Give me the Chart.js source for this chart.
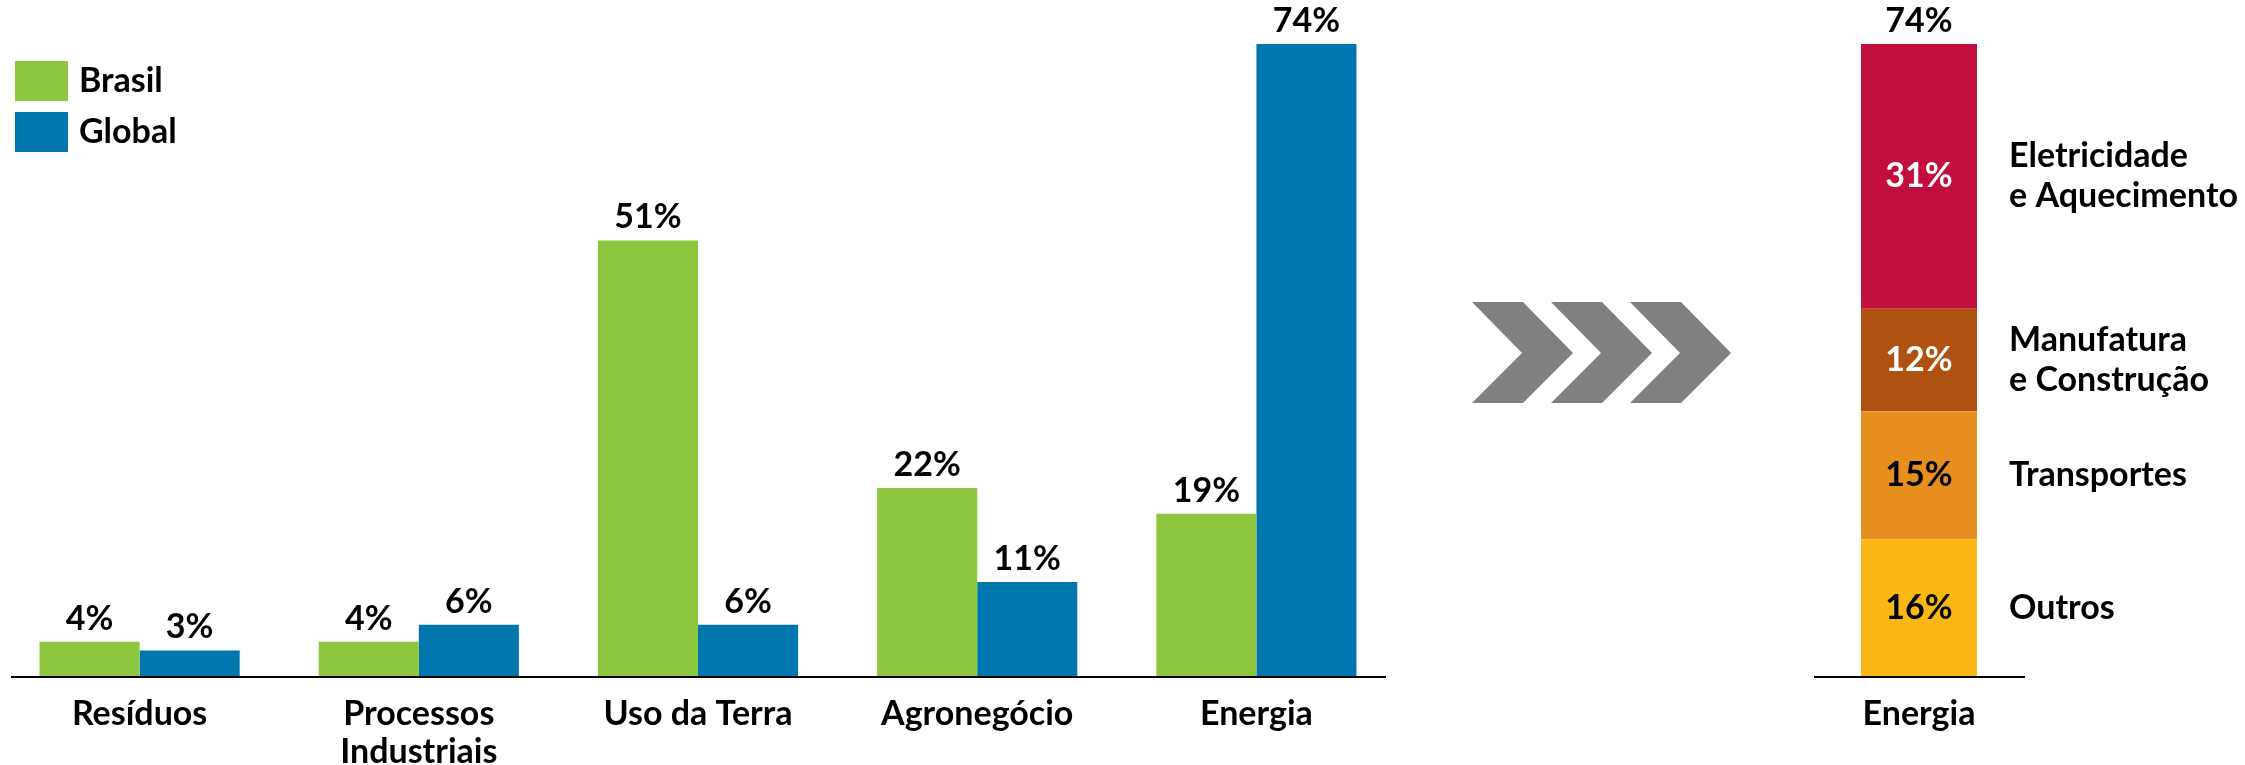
<!DOCTYPE html>
<html>
<head>
<meta charset="utf-8">
<script src="https://cdn.jsdelivr.net/npm/chart.js@4.4.0/dist/chart.umd.min.js"></script>
<style>
    body { margin: 0; background: #fff; width: 2245px; height: 765px; overflow: hidden; position: relative; }
    #main_wrap { position: absolute; left: 0; top: 0; width: 1400px; height: 765px; }
    #energy_wrap { position: absolute; left: 1420px; top: 0; width: 825px; height: 765px; }
</style>
</head>
<body>
<div id="main_wrap"><canvas id="main_chart"></canvas></div>
<div id="energy_wrap"><canvas id="energy_chart"></canvas></div>

<script>
// data
const categories = ['Resíduos', ['Processos', 'Industriais'], 'Uso da Terra', 'Agronegócio', 'Energia'];
const brasil_values = [4, 4, 51, 22, 19];
const global_values = [3, 6, 6, 11, 74];

const energy_category = ['Energia'];
const energy_parts = ['Outros', 'Transportes', 'Manufatura\ne Construção', 'Eletricidade\ne Aquecimento'];
const energy_values = [16, 15, 12, 31];
const energy_total = 74;

const y_max = 74;

const green = '#8DC63F';
const blue = '#0077AE';
const energy_colors = ['#FBB715', '#E68F1F', '#AF5211', '#C20E3F'];
const energy_text_colors = ['#000', '#000', '#fff', '#fff'];

const FONT = 'Lato, "Open Sans", sans-serif';
const SIZE = 34;
Chart.defaults.font.family = FONT;
Chart.defaults.font.size = SIZE;
Chart.defaults.font.weight = 'bold';
Chart.defaults.color = '#000';

function bold(size) {
    return 'bold ' + size + 'px ' + FONT;
}

// value labels on top of the grouped bars
const barLabels = {
    id: 'barLabels',
    afterDatasetsDraw(chart) {
        const c = chart.ctx;
        c.save();
        c.font = bold(SIZE);
        c.fillStyle = '#000';
        c.textAlign = 'center';
        c.textBaseline = 'middle';
        chart.data.datasets.forEach((ds, i) => {
            chart.getDatasetMeta(i).data.forEach((bar, j) => {
                c.fillText(ds.data[j] + '%', bar.x, bar.y - 23);
            });
        });
        c.restore();
    }
};

// legend top left, built from the datasets
const boxLegend = {
    id: 'boxLegend',
    afterDraw(chart) {
        const c = chart.ctx;
        c.save();
        c.font = bold(SIZE);
        c.textBaseline = 'middle';
        chart.data.datasets.forEach((ds, i) => {
            const top = 61 + i * 51;
            c.fillStyle = ds.backgroundColor;
            c.fillRect(15, top, 53, 40);
            c.fillStyle = '#000';
            c.fillText(ds.label, 79, top + 20);
        });
        c.restore();
    }
};

// thin base line
function baseLine(left_off, right_off) {
    return {
        id: 'baseLine',
        afterDatasetsDraw(chart) {
            const a = chart.chartArea;
            const c = chart.ctx;
            c.save();
            c.strokeStyle = '#000';
            c.lineWidth = 2;
            c.beginPath();
            c.moveTo(a.left + left_off, a.bottom + 1);
            c.lineTo(a.right + right_off, a.bottom + 1);
            c.stroke();
            c.restore();
        }
    };
}

// labels inside / beside the stacked energy bar, plus the chevrons
const energyLabels = {
    id: 'energyLabels',
    afterDatasetsDraw(chart) {
        const c = chart.ctx;
        c.save();
        c.font = bold(SIZE);
        c.textBaseline = 'middle';
        let top_y = 0;
        chart.data.datasets.forEach((ds, i) => {
            const bar = chart.getDatasetMeta(i).data[0];
            const mid = (bar.y + bar.base) / 2;
            top_y = Math.min(bar.y, bar.base);
            c.textAlign = 'center';
            c.fillStyle = energy_text_colors[i];
            c.fillText(ds.data[0] + '%', bar.x, mid);

            c.textAlign = 'left';
            c.fillStyle = '#000';
            const lines = ds.label.split('\n');
            lines.forEach((line, k) => {
                c.fillText(line, 589, mid + (k - (lines.length - 1) / 2) * 40);
            });
        });
        const first = chart.getDatasetMeta(0).data[0];
        c.textAlign = 'center';
        c.fillStyle = '#000';
        c.fillText(energy_total + '%', first.x, top_y - 23);

        // chevrons
        c.fillStyle = '#808080';
        for (let n = 0; n < 3; n++) {
            const x0 = 52 + n * 79;
            c.beginPath();
            c.moveTo(x0, 302);
            c.lineTo(x0 + 51, 302);
            c.lineTo(x0 + 101, 353);
            c.lineTo(x0 + 51, 403);
            c.lineTo(x0, 403);
            c.lineTo(x0 + 50, 353);
            c.closePath();
            c.fill();
        }
        c.restore();
    }
};

const x_ticks = {
    color: '#000',
    font: { size: SIZE, weight: 'bold', lineHeight: 1.12 },
    padding: 11,
    maxRotation: 0,
    autoSkip: false
};

function draw() {
    new Chart(document.getElementById('main_chart'), {
        type: 'bar',
        data: {
            labels: categories,
            datasets: [{
                label: 'Brasil',
                data: brasil_values,
                backgroundColor: green,
                categoryPercentage: 0.717,
                barPercentage: 1
            }, {
                label: 'Global',
                data: global_values,
                backgroundColor: blue,
                categoryPercentage: 0.717,
                barPercentage: 1
            }]
        },
        options: {
            responsive: true,
            maintainAspectRatio: false,
            animation: false,
            layout: { padding: { left: 0, right: 4, top: 44, bottom: 0 } },
            plugins: { legend: { display: false }, tooltip: { enabled: false } },
            scales: {
                x: {
                    grid: { display: false },
                    border: { display: false },
                    ticks: x_ticks,
                    afterFit: (scale) => { scale.height = 89; }
                },
                y: {
                    display: false,
                    min: 0,
                    max: y_max
                }
            }
        },
        plugins: [barLabels, boxLegend, baseLine(11, -10)]
    });

    new Chart(document.getElementById('energy_chart'), {
        type: 'bar',
        data: {
            labels: energy_category,
            datasets: energy_parts.map((name, i) => ({
                label: name,
                data: [energy_values[i]],
                backgroundColor: energy_colors[i],
                categoryPercentage: 1,
                barPercentage: 0.563
            }))
        },
        options: {
            responsive: true,
            maintainAspectRatio: false,
            animation: false,
            layout: { padding: { left: 396, right: 223, top: 44, bottom: 0 } },
            plugins: { legend: { display: false }, tooltip: { enabled: false } },
            scales: {
                x: {
                    stacked: true,
                    grid: { display: false },
                    border: { display: false },
                    ticks: x_ticks,
                    afterFit: (scale) => { scale.height = 89; }
                },
                y: {
                    stacked: true,
                    display: false,
                    min: 0,
                    max: y_max
                }
            }
        },
        plugins: [energyLabels, baseLine(-2, 3)]
    });
}

if (document.fonts && document.fonts.load) {
    document.fonts.load('bold ' + SIZE + 'px Lato').then(draw, draw);
} else {
    draw();
}
</script>
</body>
</html>
